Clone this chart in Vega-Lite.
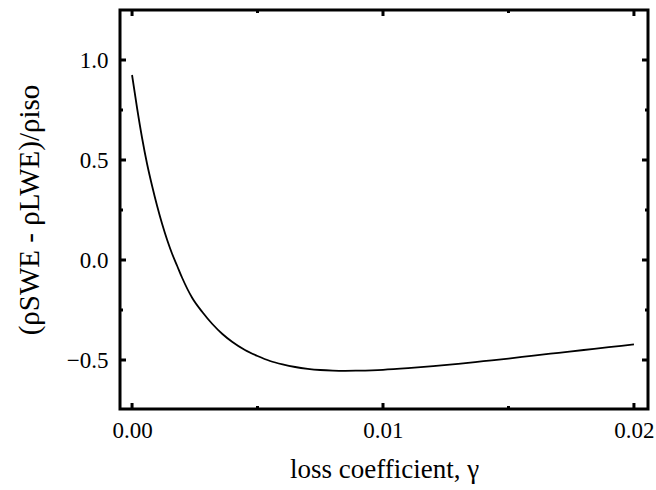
{
  "$schema": "https://vega.github.io/schema/vega-lite/v6.json",
  "width": 528,
  "height": 399,
  "autosize": "none",
  "padding": {"left": 120, "top": 10, "right": 8, "bottom": 81},
  "background": "white",
  "config": {
    "view": {"stroke": "black", "strokeWidth": 3}
  },
  "datasets": {
    "curve": [
      {"g": 0.0000, "v": 0.925},
      {"g": 0.0002, "v": 0.76},
      {"g": 0.0004, "v": 0.61},
      {"g": 0.0006, "v": 0.48},
      {"g": 0.0008, "v": 0.37},
      {"g": 0.0010, "v": 0.27},
      {"g": 0.0012, "v": 0.18},
      {"g": 0.0014, "v": 0.10},
      {"g": 0.0016, "v": 0.03},
      {"g": 0.0018, "v": -0.03},
      {"g": 0.0020, "v": -0.09},
      {"g": 0.0024, "v": -0.19},
      {"g": 0.0028, "v": -0.26},
      {"g": 0.0032, "v": -0.32},
      {"g": 0.0036, "v": -0.37},
      {"g": 0.0040, "v": -0.41},
      {"g": 0.0045, "v": -0.45},
      {"g": 0.0050, "v": -0.48},
      {"g": 0.0055, "v": -0.505},
      {"g": 0.0060, "v": -0.522},
      {"g": 0.0065, "v": -0.535},
      {"g": 0.0070, "v": -0.544},
      {"g": 0.0075, "v": -0.550},
      {"g": 0.0080, "v": -0.553},
      {"g": 0.0085, "v": -0.554},
      {"g": 0.0090, "v": -0.553},
      {"g": 0.0100, "v": -0.549},
      {"g": 0.0110, "v": -0.541},
      {"g": 0.0120, "v": -0.531},
      {"g": 0.0130, "v": -0.519},
      {"g": 0.0140, "v": -0.506},
      {"g": 0.0150, "v": -0.493},
      {"g": 0.0160, "v": -0.478},
      {"g": 0.0170, "v": -0.464},
      {"g": 0.0180, "v": -0.450},
      {"g": 0.0190, "v": -0.436},
      {"g": 0.0200, "v": -0.422}
    ],
    "xmajor": [{"t": 0}, {"t": 0.01}, {"t": 0.02}],
    "xminor": [{"t": 0.005}, {"t": 0.015}],
    "ymajor": [{"t": -0.5}, {"t": 0}, {"t": 0.5}, {"t": 1.0}],
    "yminor": [{"t": -0.25}, {"t": 0.25}, {"t": 0.75}]
  },
  "layer": [
    {
      "data": {"name": "curve"},
      "mark": {"type": "line", "color": "black", "strokeWidth": 1.8, "interpolate": "monotone"},
      "encoding": {
        "x": {"field": "g", "type": "quantitative",
          "scale": {"domain": [-0.00048, 0.02056], "nice": false, "zero": false},
          "axis": {"orient": "bottom", "values": [0, 0.01, 0.02], "format": ".2f", "ticks": false, "domain": false, "grid": false,
            "labelFont": "Liberation Serif", "labelFontSize": 23, "labelColor": "black", "labelPadding": 10,
            "title": "loss coefficient, γ", "titleFont": "Liberation Serif", "titleFontWeight": "normal", "titleColor": "black", "titleFontSize": 27, "titlePadding": 14}},
        "y": {"field": "v", "type": "quantitative",
          "scale": {"domain": [-0.745, 1.25], "nice": false, "zero": false},
          "axis": {"orient": "left", "values": [-0.5, 0, 0.5, 1.0], "format": ".1f", "ticks": false, "domain": false, "grid": false,
            "labelFont": "Liberation Serif", "labelFontSize": 23, "labelColor": "black", "labelPadding": 12,
            "title": "(ρSWE - ρLWE)/ρiso", "titleFont": "Liberation Serif", "titleFontWeight": "normal", "titleColor": "black", "titleFontSize": 29, "titlePadding": 22}}
      }
    },
    {
      "data": {"name": "xmajor"},
      "mark": {"type": "rule", "color": "black", "strokeWidth": 3},
      "encoding": {"x": {"field": "t", "type": "quantitative"}, "y": {"datum": -0.745, "type": "quantitative"}, "y2": {"datum": -0.715}}
    },
    {
      "data": {"name": "xmajor"},
      "mark": {"type": "rule", "color": "black", "strokeWidth": 3},
      "encoding": {"x": {"field": "t", "type": "quantitative"}, "y": {"datum": 1.25, "type": "quantitative"}, "y2": {"datum": 1.22}}
    },
    {
      "data": {"name": "xminor"},
      "mark": {"type": "rule", "color": "black", "strokeWidth": 3},
      "encoding": {"x": {"field": "t", "type": "quantitative"}, "y": {"datum": -0.745, "type": "quantitative"}, "y2": {"datum": -0.73}}
    },
    {
      "data": {"name": "xminor"},
      "mark": {"type": "rule", "color": "black", "strokeWidth": 3},
      "encoding": {"x": {"field": "t", "type": "quantitative"}, "y": {"datum": 1.25, "type": "quantitative"}, "y2": {"datum": 1.235}}
    },
    {
      "data": {"name": "ymajor"},
      "mark": {"type": "rule", "color": "black", "strokeWidth": 3},
      "encoding": {"y": {"field": "t", "type": "quantitative"}, "x": {"datum": -0.00048, "type": "quantitative"}, "x2": {"datum": -0.00024}}
    },
    {
      "data": {"name": "ymajor"},
      "mark": {"type": "rule", "color": "black", "strokeWidth": 3},
      "encoding": {"y": {"field": "t", "type": "quantitative"}, "x": {"datum": 0.02056, "type": "quantitative"}, "x2": {"datum": 0.02032}}
    },
    {
      "data": {"name": "yminor"},
      "mark": {"type": "rule", "color": "black", "strokeWidth": 3},
      "encoding": {"y": {"field": "t", "type": "quantitative"}, "x": {"datum": -0.00048, "type": "quantitative"}, "x2": {"datum": -0.00036}}
    },
    {
      "data": {"name": "yminor"},
      "mark": {"type": "rule", "color": "black", "strokeWidth": 3},
      "encoding": {"y": {"field": "t", "type": "quantitative"}, "x": {"datum": 0.02056, "type": "quantitative"}, "x2": {"datum": 0.02044}}
    }
  ]
}
